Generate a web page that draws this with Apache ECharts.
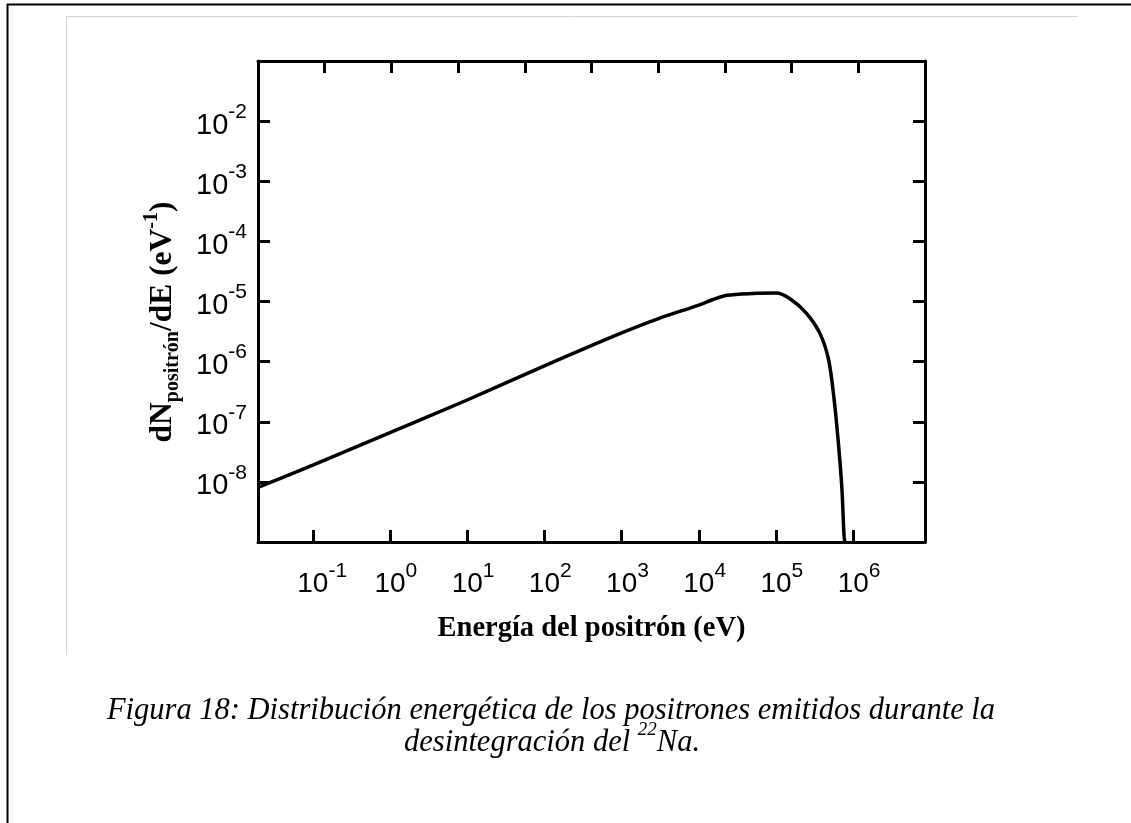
<!DOCTYPE html>
<html><head><meta charset="utf-8">
<script src="https://cdn.jsdelivr.net/npm/echarts@6/dist/echarts.min.js"></script>
<style>html,body{margin:0;padding:0;background:#fff}#c{width:1131px;height:823px}</style>
</head><body><div id="c"></div>
<script>
// Positron energy (eV) and dN/dE (eV^-1)
const energy = [0.0195, 0.1, 1, 10, 100, 1000, 3000, 1e4, 1.5e4, 2.3e4, 5e4, 1e5, 1.5e5, 2.5e5, 3.7e5, 4.8e5, 5.6e5, 6.3e5, 7.1e5, 7.6e5, 7.8e5];
const dNdE = [8.1e-9, 1.9e-8, 6.6e-8, 2.3e-7, 8.5e-7, 3.0e-6, 5.2e-6, 8.7e-6, 1.07e-5, 1.27e-5, 1.36e-5, 1.38e-5, 1.12e-5, 6.3e-6, 2.95e-6, 1.07e-6, 2.6e-7, 5.8e-8, 8.5e-9, 1.26e-9, 1e-9];
const xTickExponents = [-1, 0, 1, 2, 3, 4, 5, 6];
const yTickExponents = [-2, -3, -4, -5, -6, -7, -8];
const xRange = [0.0195, 8.5e6];
const yRange = [1e-9, 1e-1];

const SANS = '"Liberation Sans", Arial, sans-serif';
const SERIF = '"Liberation Serif", "Times New Roman", serif';

function expOf(v, list) {
  const l = Math.log10(v);
  const e = Math.round(l);
  if (Math.abs(l - e) > 1e-6 || list.indexOf(e) < 0) return null;
  return e;
}

const chart = echarts.init(document.getElementById('c'), null, {renderer: 'canvas'});
const option = {
  animation: false,
  backgroundColor: '#fff',
  grid: {left: 258, right: 206, top: 61, bottom: 281, containLabel: false},
  xAxis: [{
    type: 'log', min: xRange[0], max: xRange[1], position: 'bottom',
    axisLine: {show: true, onZero: false, lineStyle: {color: '#000', width: 3}},
    axisTick: {show: true, inside: true, length: 12, lineStyle: {color: '#000', width: 3}},
    splitLine: {show: false}, minorTick: {show: false},
    axisLabel: {
      margin: 23, color: '#000',
      formatter: function (v) {
        const e = expOf(v, xTickExponents);
        return e === null ? '' : '{h|' + e + '}{b|10}{s|' + e + '}';
      },
      rich: {
        h: {fontSize: 21, fontFamily: SANS, color: 'transparent', lineHeight: 21, padding: [0, 0, 18, 0]},
        b: {fontSize: 28, fontFamily: SANS, color: '#000', lineHeight: 30, padding: [9, 0, 0, 0]},
        s: {fontSize: 21, fontFamily: SANS, color: '#000', lineHeight: 21, padding: [0, 0, 18, 0]}
      }
    },
    name: 'Energía del positrón (eV)', nameLocation: 'middle', nameGap: 72,
    nameTextStyle: {fontFamily: SERIF, fontWeight: 'bold', fontSize: 28.5, color: '#000'}
  }, {
    type: 'value', min: 0, max: 10, interval: 1, position: 'top',
    axisLine: {show: true, onZero: false, lineStyle: {color: '#000', width: 3}},
    axisTick: {show: true, inside: true, length: 12, lineStyle: {color: '#000', width: 3}},
    axisLabel: {show: false}, splitLine: {show: false}
  }],
  yAxis: [{
    type: 'log', min: yRange[0], max: yRange[1], position: 'left',
    axisLine: {show: true, onZero: false, lineStyle: {color: '#000', width: 3}},
    axisTick: {show: true, inside: true, length: 12, lineStyle: {color: '#000', width: 3}},
    splitLine: {show: false}, minorTick: {show: false},
    axisLabel: {
      margin: 11, color: '#000',
      formatter: function (v) {
        const e = expOf(v, yTickExponents);
        return e === null ? '' : '{b|10}{s|' + e + '}';
      },
      rich: {
        b: {fontSize: 29, fontFamily: SANS, color: '#000', lineHeight: 30, padding: [9, 0, 0, 0]},
        s: {fontSize: 21, fontFamily: SANS, color: '#000', lineHeight: 21, padding: [0, 0, 18, 0]}
      }
    },
    name: '{m|dN}{sub|positrón}{m|/dE (eV}{sup|-1}{m|)}',
    nameLocation: 'middle', nameGap: 70, nameRotate: 90,
    nameTextStyle: {
      fontFamily: SERIF, fontWeight: 'bold', fontSize: 31.5, color: '#000',
      padding: [0, 41, 0, 0],
      rich: {
        m: {fontFamily: SERIF, fontWeight: 'bold', fontSize: 31.5, color: '#000', lineHeight: 31, padding: [6, 0, 6, 0]},
        sub: {fontFamily: SERIF, fontWeight: 'bold', fontSize: 20, color: '#000', lineHeight: 20, padding: [21, 0, 2, 0]},
        sup: {fontFamily: SERIF, fontWeight: 'bold', fontSize: 20, color: '#000', lineHeight: 20, padding: [0, 0, 23, 0]}
      }
    }
  }, {
    type: 'log', min: yRange[0], max: yRange[1], position: 'right',
    axisLine: {show: true, onZero: false, lineStyle: {color: '#000', width: 3}},
    axisTick: {show: true, inside: true, length: 12, lineStyle: {color: '#000', width: 3}},
    axisLabel: {show: false}, splitLine: {show: false}, minorTick: {show: false}
  }],
  series: [{
    type: 'line', xAxisIndex: 0, yAxisIndex: 0,
    data: energy.map((e, i) => [e, dNdE[i]]),
    showSymbol: false, smooth: 0.3, clip: true,
    lineStyle: {color: '#000', width: 3.5}
  }],
  graphic: [
    {type: 'line', shape: {x1: 7, y1: 4.5, x2: 1131, y2: 4.5}, style: {stroke: '#000', lineWidth: 2}, silent: true},
    {type: 'line', shape: {x1: 7.5, y1: 4, x2: 7.5, y2: 823}, style: {stroke: '#000', lineWidth: 2}, silent: true},
    {type: 'line', shape: {x1: 66.5, y1: 16.5, x2: 1078, y2: 16.5}, style: {stroke: '#d4d4d4', lineWidth: 1}, silent: true},
    {type: 'line', shape: {x1: 66.5, y1: 16.5, x2: 66.5, y2: 655}, style: {stroke: '#d4d4d4', lineWidth: 1}, silent: true},
    {type: 'text', x: 551, y: 711, silent: true,
      style: {text: 'Figura 18: Distribución energética de los positrones emitidos durante la',
        font: 'italic 30.5px ' + SERIF, fill: '#000', align: 'center', verticalAlign: 'middle'}},
    {type: 'text', x: 552, y: 739, silent: true,
      style: {text: '{t|desintegración del }{p|22}{t|Na.}',
        font: 'italic 30.5px ' + SERIF, fill: '#000', align: 'center', verticalAlign: 'middle',
        rich: {
          t: {fontStyle: 'italic', fontSize: 30.5, fontFamily: SERIF, fill: '#000', lineHeight: 30, padding: [8, 0, 0, 0]},
          p: {fontStyle: 'italic', fontSize: 19, fontFamily: SERIF, fill: '#000', lineHeight: 19, padding: [0, 0, 19, 0]}
        }}}
  ]
};
chart.setOption(option);
</script>
</body></html>
